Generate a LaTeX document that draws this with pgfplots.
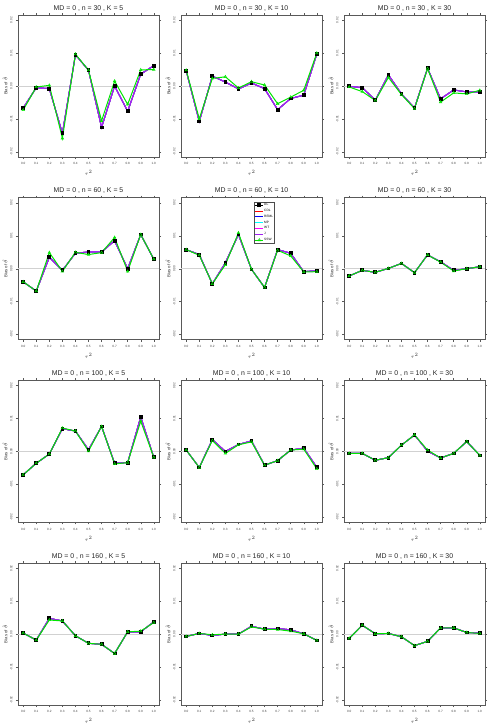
\documentclass[border=0pt]{standalone}
\usepackage{fontspec}
\setmainfont{Liberation Sans}
\usepackage{pgfplots}
\pgfplotsset{compat=1.18}
\usepackage{pgfplotstable}
\usepgfplotslibrary{groupplots}

\definecolor{cdl}{HTML}{FF0000}
\definecolor{reml}{HTML}{0000FF}
\definecolor{mp}{HTML}{00FFFF}
\definecolor{wt}{HTML}{FF00FF}
\definecolor{jj}{HTML}{A020F0}
\definecolor{ssw}{HTML}{00E600}

\newcommand{\ticks}{\fontsize{3.1}{3.6}\selectfont}
\newcommand{\labs}{\fontsize{4.3}{5}\selectfont}
\newcommand{\ttl}{\fontsize{6.9}{8}\selectfont}

% columns: t = tau^2, a = DL ... J (they overlap), s = SSW
\pgfplotstableread{
t a s
0.0 -0.0067 -0.0073
0.1 -0.0005 -0.0003
0.2 -0.0008 0.0002
0.3 -0.0144 -0.0159
0.4 0.0095 0.0097
0.5 0.0048 0.0048
0.6 -0.0126 -0.0106
0.7 0.0000 0.0015
0.8 -0.0077 -0.0056
0.9 0.0036 0.0049
1.0 0.0062 0.0050
}\tabA
\pgfplotstableread{
t a s
0.0 0.0046 0.0048
0.1 -0.0108 -0.0100
0.2 0.0030 0.0023
0.3 0.0012 0.0028
0.4 -0.0009 -0.0006
0.5 0.0009 0.0013
0.6 -0.0008 0.0003
0.7 -0.0072 -0.0054
0.8 -0.0038 -0.0034
0.9 -0.0028 -0.0013
1.0 0.0097 0.0100
}\tabB
\pgfplotstableread{
t a s
0.0 -0.0001 -0.0003
0.1 -0.0005 -0.0017
0.2 -0.0043 -0.0044
0.3 0.0034 0.0026
0.4 -0.0024 -0.0026
0.5 -0.0067 -0.0069
0.6 0.0054 0.0053
0.7 -0.0039 -0.0049
0.8 -0.0012 -0.0021
0.9 -0.0018 -0.0024
1.0 -0.0018 -0.0013
}\tabC
\pgfplotstableread{
t a s
0.0 -0.0040 -0.0040
0.1 -0.0068 -0.0068
0.2 0.0035 0.0049
0.3 -0.0005 -0.0008
0.4 0.0047 0.0050
0.5 0.0051 0.0043
0.6 0.0051 0.0049
0.7 0.0085 0.0095
0.8 0.0000 -0.0008
0.9 0.0104 0.0104
1.0 0.0029 0.0029
}\tabD
\pgfplotstableread{
t a s
0.0 0.0058 0.0058
0.1 0.0043 0.0041
0.2 -0.0046 -0.0046
0.3 0.0018 0.0012
0.4 0.0104 0.0109
0.5 -0.0002 -0.0002
0.6 -0.0057 -0.0057
0.7 0.0058 0.0056
0.8 0.0047 0.0039
0.9 -0.0009 -0.0010
1.0 -0.0006 -0.0009
}\tabE
\pgfplotstableread{
t a s
0.0 -0.0022 -0.0022
0.1 -0.0005 -0.0005
0.2 -0.0011 -0.0011
0.3 0.0001 0.0001
0.4 0.0016 0.0016
0.5 -0.0012 -0.0012
0.6 0.0042 0.0042
0.7 0.0021 0.0020
0.8 -0.0005 -0.0007
0.9 0.0000 0.0000
1.0 0.0006 0.0006
}\tabF
\pgfplotstableread{
t a s
0.0 -0.0071 -0.0071
0.1 -0.0036 -0.0036
0.2 -0.0008 -0.0008
0.3 0.0069 0.0071
0.4 0.0062 0.0062
0.5 0.0005 0.0001
0.6 0.0076 0.0076
0.7 -0.0036 -0.0038
0.8 -0.0034 -0.0034
0.9 0.0105 0.0092
1.0 -0.0018 -0.0018
}\tabG
\pgfplotstableread{
t a s
0.0 0.0004 0.0004
0.1 -0.0049 -0.0049
0.2 0.0036 0.0033
0.3 0.0000 -0.0006
0.4 0.0021 0.0020
0.5 0.0032 0.0029
0.6 -0.0042 -0.0042
0.7 -0.0028 -0.0028
0.8 0.0004 0.0004
0.9 0.0010 0.0007
1.0 -0.0048 -0.0053
}\tabH
\pgfplotstableread{
t a s
0.0 -0.0006 -0.0006
0.1 -0.0006 -0.0006
0.2 -0.0027 -0.0027
0.3 -0.0019 -0.0019
0.4 0.0019 0.0019
0.5 0.0050 0.0050
0.6 0.0001 0.0004
0.7 -0.0020 -0.0020
0.8 -0.0006 -0.0006
0.9 0.0030 0.0030
1.0 -0.0012 -0.0012
}\tabI
\pgfplotstableread{
t a s
0.0 0.0003 0.0003
0.1 -0.0018 -0.0018
0.2 0.0048 0.0043
0.3 0.0040 0.0040
0.4 -0.0005 -0.0005
0.5 -0.0028 -0.0028
0.6 -0.0031 -0.0031
0.7 -0.0059 -0.0059
0.8 0.0007 0.0007
0.9 0.0007 0.0009
1.0 0.0037 0.0035
}\tabJ
\pgfplotstableread{
t a s
0.0 -0.0007 -0.0007
0.1 0.0002 0.0002
0.2 -0.0004 -0.0002
0.3 0.0000 0.0000
0.4 0.0000 0.0000
0.5 0.0024 0.0022
0.6 0.0015 0.0015
0.7 0.0017 0.0014
0.8 0.0013 0.0009
0.9 0.0001 0.0001
1.0 -0.0019 -0.0019
}\tabK
\pgfplotstableread{
t a s
0.0 -0.0013 -0.0013
0.1 0.0027 0.0027
0.2 0.0001 0.0001
0.3 0.0002 0.0002
0.4 -0.0008 -0.0008
0.5 -0.0035 -0.0035
0.6 -0.0022 -0.0022
0.7 0.0019 0.0019
0.8 0.0019 0.0019
0.9 0.0005 0.0005
1.0 0.0003 0.0002
}\tabL

\pgfplotsset{
  panel/.style={
    scale only axis, width=141pt, height=142pt,
    xmin=-0.04, xmax=1.04, ymin=-0.0216, ymax=0.0216,
    axis line style={black!65, line width=0.7pt},
    xtick={0,0.1,0.2,0.3,0.4,0.5,0.6,0.7,0.8,0.9,1},
    ytick={-0.02,-0.01,0,0.01,0.02},
    scaled y ticks=false,
    tick align=outside, major tick length=2pt,
    tick style={black!65, line width=0.4pt},
    xlabel={$\tau^2$}, ylabel={Bias of $\hat{\theta}$},
    label style={font=\labs, text=black!80},
    ylabel style={yshift=-4pt},
    xlabel style={yshift=1pt},
    title style={font=\ttl, text=black!85, yshift=-5.5pt},
    xticklabel style={font=\ticks, text=black!75, /pgf/number format/.cd, fixed, precision=1, fixed zerofill, assume math mode=true},
    yticklabel style={font=\ticks, text=black!75, rotate=90, anchor=south, /pgf/number format/.cd, fixed, precision=2, fixed zerofill, assume math mode=true},
    legend image code/.code={\draw[mark repeat=2, mark phase=2, #1] plot coordinates {(0pt,0pt) (4pt,0pt) (8pt,0pt)};},
  },
}

\newcommand{\panel}[1]{%
  \addplot[black!18, line width=1pt, forget plot] coordinates {(-0.04,0) (1.04,0)};
  \addplot[black, line width=0.9pt, mark=square*, mark size=1.4pt] table[x=t, y=a] {#1};
  \addplot[cdl, line width=0.9pt] table[x=t, y=a] {#1};
  \addplot[reml, line width=0.9pt] table[x=t, y=a] {#1};
  \addplot[mp, line width=0.9pt] table[x=t, y=a] {#1};
  \addplot[wt, line width=0.9pt] table[x=t, y=a] {#1};
  \addplot[jj, line width=1pt] table[x=t, y=a] {#1};
  \addplot[ssw, line width=1pt, mark=triangle, mark size=1.5pt, mark options={line width=0.5pt}] table[x=t, y=s] {#1};
}

\begin{document}
\begin{tikzpicture}
\begin{groupplot}[
  group style={group name=gp, group size=3 by 4, horizontal sep=22pt, vertical sep=40.7pt},
  panel,
]
\nextgroupplot[title={MD = 0 , n = 30 , K = 5}]
\panel{\tabA}
\nextgroupplot[title={MD = 0 , n = 30 , K = 10}]
\panel{\tabB}
\nextgroupplot[title={MD = 0 , n = 30 , K = 30}]
\panel{\tabC}
\nextgroupplot[title={MD = 0 , n = 60 , K = 5}]
\panel{\tabD}
\nextgroupplot[title={MD = 0 , n = 60 , K = 10},
  legend entries={DL, CDL, REML, MP, WT, J, SSW},
  legend cell align=left,
  legend style={at={(0.59,0.97)}, anchor=north, font=\fontsize{3.2}{3.6}\selectfont,
    draw=black!70, line width=0.4pt, inner sep=0.8pt, row sep=1.3pt,
    nodes={inner sep=0.4pt}}]
\panel{\tabE}
\nextgroupplot[title={MD = 0 , n = 60 , K = 30}]
\panel{\tabF}
\nextgroupplot[title={MD = 0 , n = 100 , K = 5}]
\panel{\tabG}
\nextgroupplot[title={MD = 0 , n = 100 , K = 10}]
\panel{\tabH}
\nextgroupplot[title={MD = 0 , n = 100 , K = 30}]
\panel{\tabI}
\nextgroupplot[title={MD = 0 , n = 160 , K = 5}]
\panel{\tabJ}
\nextgroupplot[title={MD = 0 , n = 160 , K = 10}]
\panel{\tabK}
\nextgroupplot[title={MD = 0 , n = 160 , K = 30}]
\panel{\tabL}
\end{groupplot}
\pgfresetboundingbox
\useasboundingbox ([shift={(-18pt,15pt)}]gp c1r1.north west) rectangle ++(495pt,-726pt);
\end{tikzpicture}
\end{document}
